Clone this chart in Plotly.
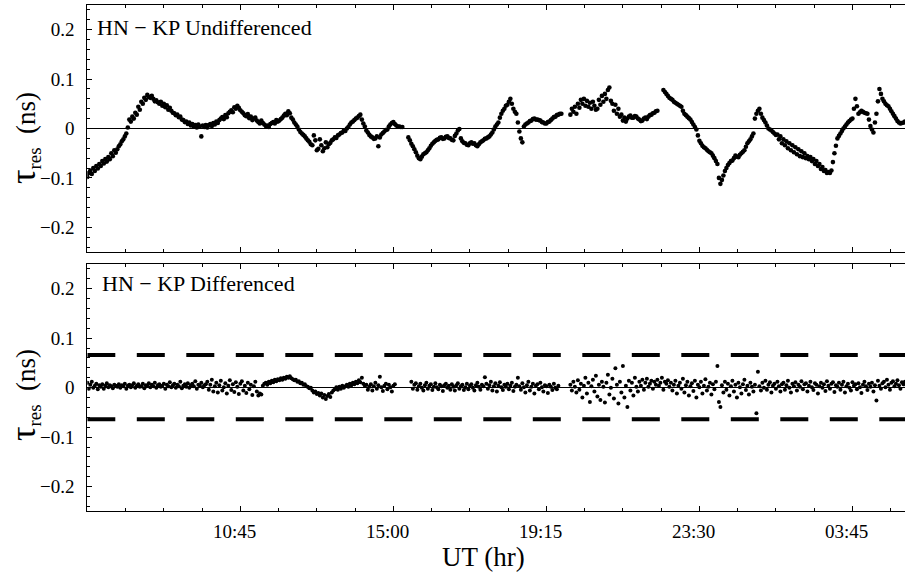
import plotly.graph_objects as go

# ---------------- data ----------------
t_start_hr = 6.5            # 06:30 UT
step_hr = 2.5 / 60          # 2.5-min sampling

undiff_ns = [
    -0.098, -0.090, -0.085, -0.092, -0.080, -0.086, -0.076, -0.081, -0.072, -0.076, -0.066, -0.071, -0.062, -0.067, -0.058, -0.062, -0.050, -0.056, -0.044, -0.049,
    -0.042, -0.036, -0.032, -0.026, -0.022, -0.016, -0.010, 0.002, 0.018, 0.014, 0.024, 0.020, 0.032, 0.028, 0.044, 0.038, 0.054, 0.050, 0.062, 0.058,
    0.068, 0.064, 0.062, 0.066, 0.060, 0.055, 0.057, 0.053, 0.050, 0.054, 0.046, 0.050, 0.043, 0.047, 0.038, 0.042, 0.036, 0.032, 0.031, 0.027,
    0.028, 0.023, 0.024, 0.018, 0.017, 0.013, 0.014, 0.009, 0.012, 0.006, 0.009, 0.004, 0.007, 0.002, 0.008, 0.004, -0.016, 0.006, 0.003, 0.007,
    0.002, 0.007, 0.009, 0.005, 0.011, 0.008, 0.014, 0.011, 0.017, 0.020, 0.023, 0.019, 0.027, 0.023, 0.031, 0.034, 0.037, 0.033, 0.043, 0.040,
    0.046, 0.042, 0.037, 0.034, 0.031, 0.027, 0.025, 0.029, 0.021, 0.024, 0.017, 0.020, 0.022, 0.016, 0.013, 0.010, 0.016, 0.011, 0.008, 0.005,
    0.006, 0.003, 0.009, 0.011, 0.013, 0.010, 0.017, 0.014, 0.016, 0.019, 0.022, 0.026, 0.030, 0.027, 0.035, 0.031, 0.022, 0.018, 0.012, 0.008,
    0.004, -0.002, -0.007, -0.010, -0.013, -0.016, -0.020, -0.024, -0.027, -0.032, -0.034, -0.014, -0.024, -0.044, -0.041, -0.022, -0.034, -0.046, -0.040, -0.028,
    -0.038, -0.032, -0.029, -0.024, -0.022, -0.018, -0.019, -0.014, -0.012, -0.009, -0.008, -0.004, -0.005, 0.000, 0.003, 0.008, 0.012, 0.014, 0.017, 0.020,
    0.022, 0.025, 0.028, 0.018, 0.010, 0.004, -0.004, -0.008, -0.013, -0.016, -0.018, -0.021, -0.020, -0.016, -0.036, -0.018, -0.012, -0.009, -0.006, -0.003,
    -0.002, 0.004, 0.008, 0.011, 0.013, 0.009, 0.006, 0.004, 0.004, 0.003, 0.003, None, None, None, -0.018, -0.024, -0.031, -0.036, -0.042, -0.048,
    -0.055, -0.060, -0.062, -0.057, -0.052, -0.050, -0.048, -0.044, -0.040, -0.035, -0.031, -0.028, -0.025, -0.023, -0.022, -0.019, -0.018, -0.021, -0.020, -0.017,
    -0.016, -0.019, -0.020, -0.023, -0.024, -0.015, -0.010, -0.004, -0.001, -0.020, -0.026, -0.029, -0.030, -0.033, -0.034, -0.030, -0.028, -0.031, -0.030, -0.034,
    -0.036, -0.032, -0.028, -0.026, -0.024, -0.021, -0.020, -0.018, -0.016, -0.012, -0.008, -0.002, 0.004, 0.008, 0.012, 0.022, 0.030, 0.036, 0.040, 0.046,
    0.048, 0.054, 0.060, 0.050, 0.040, 0.034, 0.030, 0.012, -0.006, -0.020, -0.028, 0.004, 0.008, 0.010, 0.012, 0.015, 0.016, 0.019, 0.020, 0.018,
    0.018, 0.017, 0.016, 0.013, 0.012, 0.010, 0.010, 0.013, 0.014, 0.017, 0.020, 0.023, 0.024, 0.027, 0.028, 0.030, 0.030, None, None, None,
    None, None, 0.028, 0.040, 0.034, 0.044, 0.030, 0.050, 0.042, 0.058, 0.050, 0.060, 0.046, 0.056, 0.044, 0.052, 0.040, 0.054, 0.046, 0.038,
    0.040, 0.058, 0.048, 0.066, 0.054, 0.070, 0.060, 0.078, 0.083, 0.056, 0.050, 0.036, 0.048, 0.030, 0.040, 0.024, 0.028, 0.016, 0.022, 0.014,
    0.020, 0.024, 0.026, 0.022, 0.022, 0.025, 0.024, 0.020, 0.018, 0.015, 0.016, 0.020, 0.022, 0.019, 0.024, 0.027, 0.028, 0.031, 0.032, 0.035,
    0.036, None, None, None, 0.078, 0.074, 0.070, 0.066, 0.062, 0.060, 0.058, 0.054, 0.052, 0.050, 0.048, 0.046, 0.044, 0.036, 0.030, 0.027,
    0.024, 0.021, 0.018, 0.013, 0.008, 0.003, -0.002, -0.014, -0.025, -0.030, -0.035, -0.038, -0.040, -0.043, -0.046, -0.048, -0.050, -0.055, -0.060, -0.066,
    -0.072, -0.100, -0.112, -0.104, -0.095, -0.086, -0.080, -0.074, -0.070, -0.066, -0.065, -0.060, -0.055, -0.057, -0.058, -0.053, -0.050, -0.047, -0.044, -0.037,
    -0.030, -0.026, -0.022, -0.016, -0.010, 0.020, 0.030, 0.036, 0.040, 0.030, 0.022, 0.017, 0.012, 0.006, 0.000, -0.002, -0.004, -0.007, -0.010, -0.013,
    -0.012, -0.022, -0.016, -0.030, -0.022, -0.034, -0.026, -0.040, -0.030, -0.044, -0.034, -0.048, -0.038, -0.052, -0.042, -0.056, -0.046, -0.058, -0.050, -0.060,
    -0.056, -0.062, -0.058, -0.066, -0.062, -0.072, -0.066, -0.076, -0.072, -0.082, -0.078, -0.086, -0.084, -0.090, -0.088, -0.090, -0.085, -0.068, -0.050, -0.035,
    -0.020, -0.015, -0.010, -0.005, 0.000, 0.004, 0.008, 0.012, 0.015, 0.018, 0.020, 0.040, 0.060, 0.045, 0.030, 0.033, 0.036, 0.034, 0.032, 0.031,
    0.030, 0.018, 0.005, -0.002, -0.008, 0.012, 0.030, 0.055, 0.080, 0.070, 0.060, 0.055, 0.050, 0.047, 0.045, 0.040, 0.035, 0.030, 0.025, 0.020,
    0.015, 0.012, 0.010, 0.011, 0.012, 0.014,
]

diff_ns = [
    0.010, -0.002, 0.006, 0.012, 0.000, 0.004, 0.008, -0.003, 0.005, 0.002, 0.007, -0.002, 0.004, 0.009, 0.001, 0.005, 0.003, -0.001, 0.006, 0.004,
    0.002, 0.007, 0.000, 0.005, 0.003, 0.008, -0.002, 0.004, 0.006, 0.001, 0.005, 0.009, 0.000, 0.004, 0.007, 0.002, 0.003, 0.008, -0.001, 0.005,
    0.004, 0.009, 0.001, 0.006, 0.003, 0.010, 0.000, 0.005, 0.007, 0.002, 0.004, 0.008, -0.002, 0.006, 0.003, 0.011, 0.001, 0.005, 0.008, 0.000,
    0.006, 0.003, 0.012, -0.001, 0.004, 0.007, 0.002, 0.009, 0.000, 0.005, 0.008, 0.003, 0.013, -0.002, 0.006, 0.004, 0.010, 0.001, 0.005, 0.007,
    0.012, -0.004, 0.006, 0.016, -0.008, 0.003, 0.010, -0.010, 0.005, 0.014, -0.006, 0.001, 0.009, -0.012, 0.004, 0.015, -0.005, 0.007, -0.009, 0.011,
    0.002, -0.013, 0.008, 0.013, -0.006, 0.004, -0.011, 0.010, -0.003, 0.006, -0.015, 0.003, 0.012, -0.008, -0.016, -0.012, -0.014, 0.004, 0.008, 0.010,
    0.006, 0.012, 0.009, 0.014, 0.011, 0.016, 0.013, 0.017, 0.015, 0.019, 0.016, 0.020, 0.018, 0.022, 0.020, 0.023, 0.019, 0.017, 0.015, 0.016,
    0.012, 0.013, 0.009, 0.010, 0.006, 0.007, 0.003, 0.002, -0.001, 0.000, -0.006, -0.010, -0.008, -0.013, -0.011, -0.016, -0.012, -0.020, -0.015, -0.023,
    -0.017, -0.013, -0.019, -0.010, -0.006, -0.003, 0.001, -0.004, 0.002, -0.002, 0.004, 0.000, 0.003, 0.006, 0.002, 0.008, 0.005, 0.010, 0.007, 0.012,
    0.009, 0.015, 0.011, 0.020, 0.008, 0.004, 0.006, -0.004, 0.002, 0.007, -0.006, 0.003, 0.010, -0.002, 0.005, 0.022, 0.001, -0.007, 0.004, 0.008,
    -0.003, 0.006, 0.001, -0.008, 0.004, 0.007, None, None, None, None, None, None, None, None, None, None, 0.012, -0.002, 0.006, 0.009,
    -0.004, 0.003, 0.008, 0.000, -0.006, 0.005, 0.010, -0.002, 0.004, 0.007, -0.005, 0.002, 0.009, 0.001, -0.003, 0.006, 0.003, -0.007, 0.005, 0.008,
    0.000, 0.004, -0.004, 0.007, 0.002, -0.006, 0.005, 0.009, -0.002, 0.003, 0.006, -0.005, 0.001, 0.008, -0.003, 0.004, 0.007, 0.000, -0.006, 0.005,
    0.010, 0.002, -0.004, 0.006, 0.003, 0.021, 0.008, -0.002, 0.005, 0.012, -0.006, 0.003, 0.009, -0.008, 0.004, 0.011, 0.001, -0.005, 0.006, 0.002,
    0.008, -0.003, 0.004, 0.010, -0.007, 0.002, 0.006, 0.020, 0.003, -0.004, 0.009, 0.001, -0.010, 0.005, 0.012, -0.006, 0.002, 0.008, -0.012, 0.004,
    0.007, -0.003, 0.010, 0.001, -0.008, 0.005, 0.003, -0.011, 0.006, 0.002, -0.005, 0.008, 0.000, -0.003, 0.004, None, None, None, None, None,
    None, None, 0.006, -0.006, 0.012, 0.002, -0.010, 0.015, -0.004, 0.008, -0.020, 0.004, 0.020, -0.012, 0.010, -0.029, 0.003, 0.016, -0.008, 0.024,
    -0.018, 0.006, -0.025, 0.012, 0.002, -0.030, 0.010, 0.026, -0.014, 0.000, 0.018, -0.022, 0.039, 0.006, -0.032, 0.012, -0.010, 0.044, -0.020, 0.004,
    -0.039, 0.014, -0.006, 0.010, -0.016, 0.020, 0.002, -0.008, 0.012, 0.004, 0.016, -0.004, 0.010, 0.018, 0.002, 0.008, 0.014, -0.002, 0.012, 0.006,
    0.016, 0.004, 0.010, 0.020, -0.004, 0.012, 0.008, 0.015, 0.002, 0.010, -0.006, 0.006, 0.014, -0.012, 0.004, 0.010, -0.002, 0.018, -0.010, 0.005,
    0.012, -0.016, 0.003, 0.009, -0.007, 0.014, -0.020, 0.006, 0.001, 0.012, -0.012, 0.004, 0.017, -0.006, 0.002, 0.010, -0.014, 0.007, -0.003, 0.012,
    0.044, -0.029, -0.039, 0.005, -0.010, 0.012, -0.004, 0.008, -0.016, 0.003, 0.014, -0.008, 0.006, -0.020, 0.010, 0.001, -0.012, 0.007, 0.016, -0.005,
    0.004, -0.014, 0.010, 0.002, -0.008, 0.006, -0.052, 0.032, 0.003, -0.006, 0.010, 0.000, 0.014, -0.004, 0.006, 0.011, -0.010, 0.004, 0.008, -0.002,
    0.012, 0.003, -0.008, 0.007, 0.010, -0.004, 0.005, 0.014, 0.000, -0.010, 0.008, 0.003, 0.011, -0.006, 0.006, 0.002, 0.013, -0.003, 0.007, 0.009,
    -0.008, 0.004, 0.012, 0.001, -0.005, 0.009, 0.006, -0.012, 0.003, 0.010, 0.000, 0.007, -0.007, 0.013, 0.004, -0.002, 0.008, 0.011, -0.009, 0.005,
    0.002, 0.010, -0.004, 0.006, 0.012, -0.010, 0.003, 0.008, 0.000, -0.006, 0.011, 0.004, 0.007, -0.003, 0.009, 0.001, -0.011, 0.006, 0.012, 0.003,
    -0.005, 0.008, 0.002, 0.010, -0.008, 0.005, -0.026, 0.014, 0.004, -0.002, 0.009, 0.012, 0.001, 0.016, 0.006, -0.004, 0.010, 0.013, 0.003, 0.008,
    0.015, 0.005, -0.002, 0.011, 0.007, 0.012,
]

bound_upper_ns = 0.066
bound_lower_ns = -0.064

x_tick_hr = [10.75, 15.0, 19.25, 23.5, 27.75]
x_tick_text = ["10:45", "15:00", "19:15", "23:30", "03:45"]
y_tick_vals = [-0.2, -0.1, 0.0, 0.1, 0.2]
y_tick_text = ["\u22120.2", "\u22120.1", "0", "0.1", "0.2"]

top_label = "HN \u2212 KP Undifferenced"
bot_label = "HN \u2212 KP Differenced"

# ---------------- figure ----------------
t_top = [t_start_hr + k * step_hr for k in range(len(undiff_ns))]
t_bot = [t_start_hr + k * step_hr for k in range(len(diff_ns))]

W, H = 905, 574
x_range = [6.5, 29.21]
FONT = "Liberation Serif"

fig = go.Figure()
fig.add_trace(go.Scatter(x=t_top, y=undiff_ns, mode="markers", xaxis="x2", yaxis="y2",
                         marker=dict(color="black", size=4.6), showlegend=False))
fig.add_trace(go.Scatter(x=t_bot, y=diff_ns, mode="markers", xaxis="x", yaxis="y",
                         marker=dict(color="black", size=4.0), showlegend=False))

for yv in (bound_upper_ns, bound_lower_ns):
    fig.add_shape(type="line", xref="x", yref="y", x0=x_range[0], x1=x_range[1], y0=yv, y1=yv,
                  line=dict(color="black", width=4, dash="28px,21.5px"))

xdom = [87.3 / W, 1.0]
top_dom = [(H - 252) / H, (H - 5) / H]
bot_dom = [(H - 511.3) / H, (H - 264) / H]

def xax():
    return dict(domain=xdom, range=x_range, tickmode="array", tickvals=x_tick_hr,
                showticklabels=False,
                ticks="inside", ticklen=5, tickwidth=1, tickcolor="black",
                minor=dict(tickmode="linear", tick0=6.5, dtick=1.0625, ticks="inside",
                           ticklen=3, tickwidth=1, tickcolor="black"),
                showline=True, linecolor="black", linewidth=1, mirror="allticks",
                showgrid=False, zeroline=False)

def yax(dom):
    return dict(domain=dom, range=[-0.25, 0.25], tickmode="array", tickvals=y_tick_vals,
                ticktext=y_tick_text, ticks="inside", ticklen=5, tickwidth=1, tickcolor="black",
                minor=dict(tickmode="linear", tick0=0, dtick=0.02, ticks="inside",
                           ticklen=3, tickwidth=1, tickcolor="black"),
                showline=True, linecolor="black", linewidth=1, mirror=False,
                showgrid=False, zeroline=True, zerolinecolor="black", zerolinewidth=1,
                ticklabelstandoff=8,
                tickfont=dict(family=FONT, size=19, color="black"))

fig.update_layout(
    width=W, height=H, margin=dict(l=0, r=0, t=0, b=0),
    paper_bgcolor="white", plot_bgcolor="white",
    xaxis=dict(anchor="y", **xax()),
    yaxis=dict(anchor="x", **yax(bot_dom)),
    xaxis2=dict(anchor="y2", **xax()),
    yaxis2=dict(anchor="x2", **yax(top_dom)),
    font=dict(family=FONT, color="black"),
)

ann = []
ann.append(dict(text=top_label, xref="paper", yref="paper", x=95 / W, y=1 - 13 / H,
                xanchor="left", yanchor="top", showarrow=False, font=dict(size=22)))
ann.append(dict(text=bot_label, xref="paper", yref="paper", x=100 / W, y=1 - 269 / H,
                xanchor="left", yanchor="top", showarrow=False, font=dict(size=22)))
for yc in (138, 395):
    ann.append(dict(text="<span style='font-size:36px'>\u03c4</span><sub>res</sub>\u00a0 (ns)",
                    xref="paper", yref="paper",
                    x=24 / W, y=1 - yc / H, xanchor="center", yanchor="middle",
                    textangle=-90, showarrow=False, font=dict(size=27)))
# x tick labels placed on the x scale
for tv, tt in zip(x_tick_hr, x_tick_text):
    ann.append(dict(text=tt, xref="x", yref="paper", x=tv, y=1 - 531 / H, xshift=-6,
                    xanchor="center", yanchor="middle", showarrow=False, font=dict(size=19)))
ann.append(dict(text="UT (hr)", xref="paper", yref="paper", x=483 / W, y=1 - 557 / H,
                xanchor="center", yanchor="middle", showarrow=False, font=dict(size=27)))
fig.update_layout(annotations=ann)

fig.write_html("out.html")
